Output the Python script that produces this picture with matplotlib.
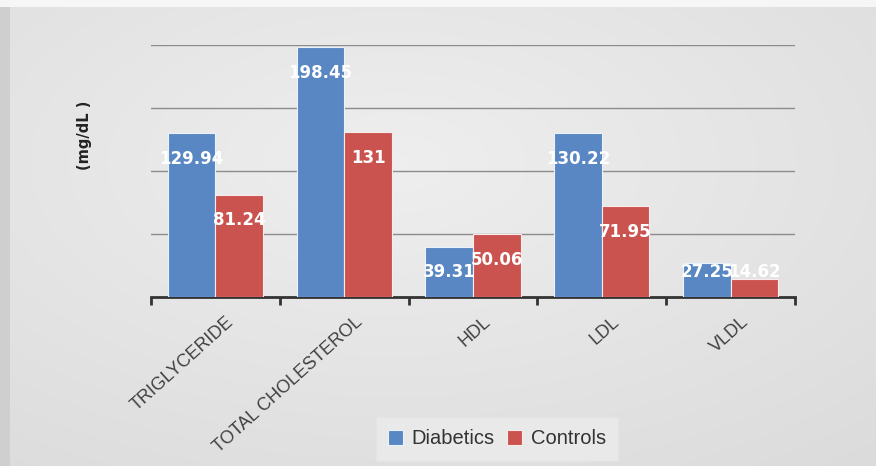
import numpy as np
import matplotlib
matplotlib.use("Agg")
import matplotlib.pyplot as plt
from matplotlib import font_manager as fm
import matplotlib.transforms as mtransforms

categories = ["TRIGLYCERIDE", "TOTAL CHOLESTEROL", "HDL", "LDL", "VLDL"]
diabetics = [129.94, 198.45, 39.31, 130.22, 27.25]
controls = [81.24, 131, 50.06, 71.95, 14.62]
diab_labels = ["129.94", "198.45", "39.31", "130.22", "27.25"]
ctrl_labels = ["81.24", "131", "50.06", "71.95", "14.62"]
series_names = ["Diabetics", "Controls"]

available = {f.name for f in fm.fontManager.ttflist}
narrow = "Liberation Sans Narrow" if "Liberation Sans Narrow" in available else None
tick_font = narrow if narrow else "Liberation Sans"
tick_size = 14.5 if narrow else 13

W, H = 876, 466
fig = plt.figure(figsize=(W / 100, H / 100), dpi=100)

# background gradient
bg = fig.add_axes([0, 0, 1, 1], zorder=-10)
yy, xx = np.mgrid[0:1:200j, 0:1:400j]
r = np.sqrt(((xx - 0.45) / 0.9) ** 2 + ((yy - 0.35) / 0.9) ** 2)
val = 0.935 - 0.08 * r
img = np.dstack([val, val, val])
bg.imshow(img, aspect="auto", extent=[0, 1, 0, 1], origin="upper")
bg.add_patch(plt.Rectangle((0, 0), 0.011, 1, color="#cfcfcf", lw=0))
bg.add_patch(plt.Rectangle((0, 0.985), 1, 0.015, color="#f6f6f6", lw=0))
bg.set_xlim(0, 1); bg.set_ylim(0, 1)
bg.axis("off")

ax = fig.add_axes([151 / W, 1 - 297 / H, (795 - 151) / W, (297 - 45) / H])
ax.set_facecolor("none")

x = np.arange(len(categories))
bw = 0.37
c_blue = "#5887c3"
c_red = "#cb534f"
b1 = ax.bar(x - bw / 2, diabetics, bw, color=c_blue, edgecolor="#eaf2fb", linewidth=0.8,
            label=series_names[0], zorder=3)
b2 = ax.bar(x + bw / 2, controls, bw, color=c_red, edgecolor="#fbeaea", linewidth=0.8,
            label=series_names[1], zorder=3)

for xs, vals, labs in ((x - bw / 2, diabetics, diab_labels), (x + bw / 2, controls, ctrl_labels)):
    for xi, v, lab in zip(xs, vals, labs):
        ty = max(v - 20.5, 19.5)
        ax.text(xi, ty, lab, ha="center", va="center", color="white",
                fontsize=12, fontweight="bold", zorder=5)

ax.set_xlim(-0.5, len(categories) - 0.5)
ax.set_ylim(0, 200)
ax.set_yticks([50, 100, 150, 200])
ax.yaxis.grid(True, color="#8c8c8c", linewidth=1.0, zorder=0)
ax.tick_params(axis="y", length=0, labelleft=False)

ax.set_xticks(x)
ax.set_xticklabels(categories, rotation=42, ha="right", rotation_mode="anchor",
                   fontsize=tick_size, color="#404040", family=tick_font)
ax.tick_params(axis="x", which="major", length=0, pad=12)
offset = mtransforms.ScaledTranslation(10 / 100, 0, fig.dpi_scale_trans)
for lbl in ax.get_xticklabels():
    lbl.set_transform(lbl.get_transform() + offset)
ax.set_xticks(np.arange(-0.5, len(categories), 1.0), minor=True)
ax.tick_params(axis="x", which="minor", length=6, width=2, color="#333333", direction="out")

for s in ("top", "right", "left"):
    ax.spines[s].set_visible(False)
ax.spines["bottom"].set_color("#333333")
ax.spines["bottom"].set_linewidth(2)

fig.text(85 / W, 1 - 135 / H, "(mg/dL )", rotation=90, ha="center", va="center",
         fontsize=10.5, fontweight="bold", color="#222222")

leg = fig.legend(handles=[b1, b2], labels=series_names, loc="center",
                 bbox_to_anchor=(497 / W, 1 - 439 / H), ncol=2, frameon=True,
                 handlelength=0.75, handleheight=0.75, handletextpad=0.45,
                 columnspacing=0.6, borderpad=0.6, fancybox=False,
                 prop={"family": "Liberation Sans", "size": 14.5})
leg.get_frame().set_facecolor("#ececec")
leg.get_frame().set_edgecolor("#e4e4e4")
for t in leg.get_texts():
    t.set_color("#333333")

fig.savefig("out.png", dpi=100)
